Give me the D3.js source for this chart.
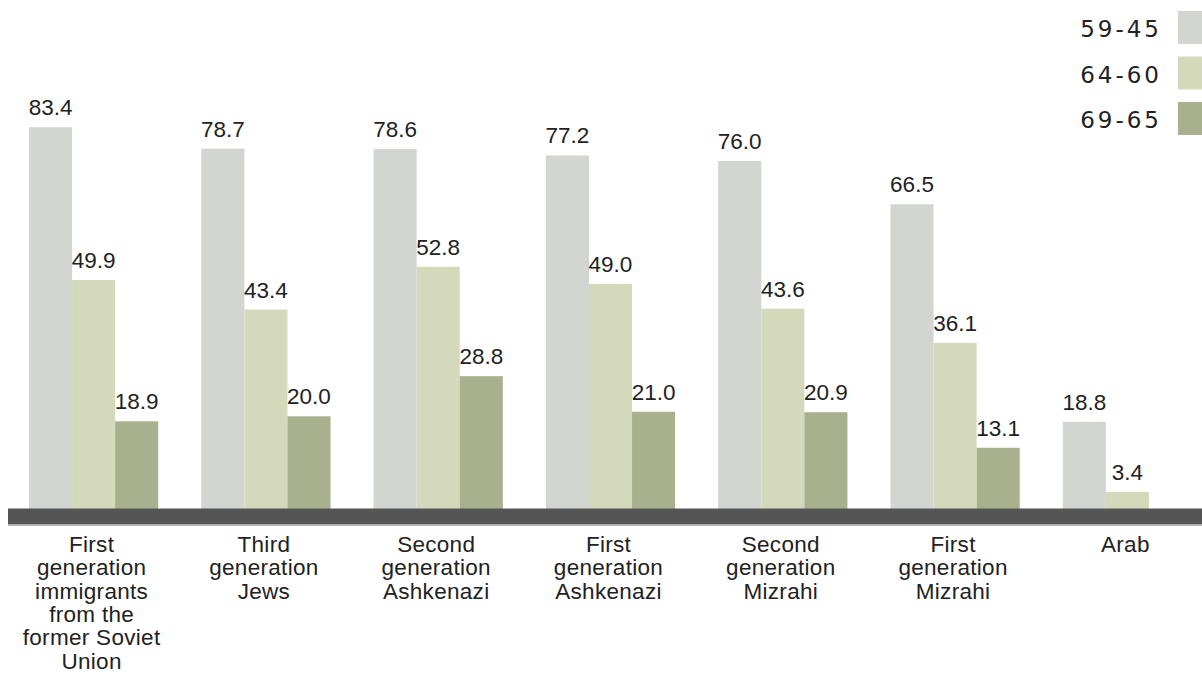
<!DOCTYPE html>
<html>
<head>
<meta charset="utf-8">
<script src="https://cdn.jsdelivr.net/npm/d3@7"></script>
<style>
  body { margin: 0; background: #fff; }
  svg { display: block; }
</style>
</head>
<body>
<div id="chart"></div>
<script>
var categories = [
  ['First', 'generation', 'immigrants', 'from the', 'former Soviet', 'Union'],
  ['Third', 'generation', 'Jews'],
  ['Second', 'generation', 'Ashkenazi'],
  ['First', 'generation', 'Ashkenazi'],
  ['Second', 'generation', 'Mizrahi'],
  ['First', 'generation', 'Mizrahi'],
  ['Arab']
];
var seriesNames = ['59-45', '64-60', '69-65'];
var ages45to59 = [83.4, 78.7, 78.6, 77.2, 76.0, 66.5, 18.8];
var ages60to64 = [49.9, 43.4, 52.8, 49.0, 43.6, 36.1, 3.4];
var ages65to69 = [18.9, 20.0, 28.8, 21.0, 20.9, 13.1, null];
var colors = ['#d3d5d0', '#d4d9bc', '#a8b08e'];

var w = 1202, h = 674;
var zeroY = 507.5;

var svg = d3.select('#chart').append('svg')
  .attr('width', w)
  .attr('height', h);

var seriesValues = [ages45to59, ages60to64, ages65to69];
var groupIdx = d3.range(categories.length);

var x0 = d3.scaleBand()
  .domain(groupIdx)
  .range([29, 1192])
  .paddingInner(0.25)
  .paddingOuter(0);

var x1 = d3.scaleBand()
  .domain(d3.range(seriesNames.length))
  .range([0, x0.bandwidth()]);

var y = d3.scaleLinear()
  .domain([0, 100])
  .range([zeroY, zeroY - 456]);

var bars = [];
groupIdx.forEach(function (g) {
  seriesValues.forEach(function (vals, s) {
    if (vals[g] != null) bars.push({ g: g, s: s, v: vals[g] });
  });
});

var groups = svg.append('g');

groups.selectAll('rect.bar')
  .data(bars)
  .enter()
  .append('rect')
  .attr('class', 'bar')
  .attr('x', function (d) { return x0(d.g) + x1(d.s); })
  .attr('y', function (d) { return y(d.v); })
  .attr('width', x1.bandwidth())
  .attr('height', function (d) { return y(0) - y(d.v) + 2; })
  .attr('fill', function (d) { return colors[d.s]; });

groups.selectAll('text.val')
  .data(bars)
  .enter()
  .append('text')
  .attr('class', 'val')
  .attr('x', function (d) { return x0(d.g) + x1(d.s) + x1.bandwidth() / 2; })
  .attr('y', function (d) { return y(d.v) - 12; })
  .attr('text-anchor', 'middle')
  .attr('font-family', 'Liberation Sans, Arial, sans-serif')
  .attr('font-size', 22.5)
  .attr('fill', '#222')
  .text(function (d) { return d.v.toFixed(1); });

// base band
svg.append('rect')
  .attr('x', 8).attr('y', zeroY + 1)
  .attr('width', w - 8).attr('height', 16)
  .attr('fill', '#555555');
svg.append('rect')
  .attr('x', 8).attr('y', zeroY + 17)
  .attr('width', w - 8).attr('height', 1.5)
  .attr('fill', '#b5b5b5');

// category labels
var catLabels = svg.selectAll('text.cat')
  .data(groupIdx)
  .enter()
  .append('text')
  .attr('class', 'cat')
  .attr('text-anchor', 'middle')
  .attr('font-family', 'Liberation Sans, Arial, sans-serif')
  .attr('font-size', 22.5)
  .attr('letter-spacing', 0.3)
  .attr('fill', '#222');

catLabels.each(function (g) {
  var t = d3.select(this);
  categories[g].forEach(function (line, i) {
    t.append('tspan')
      .attr('x', x0(g) + x0.bandwidth() / 2 - 2)
      .attr('y', 552 + i * 23.3)
      .text(line);
  });
});

// legend
var legend = svg.selectAll('g.legend')
  .data(seriesNames)
  .enter()
  .append('g')
  .attr('class', 'legend')
  .attr('transform', function (d, i) { return 'translate(0,' + (11 + i * 45.5) + ')'; });

legend.append('rect')
  .attr('x', 1178).attr('y', 0)
  .attr('width', 24).attr('height', 33)
  .attr('fill', function (d, i) { return colors[i]; });

legend.append('text')
  .attr('x', 1162)
  .attr('y', 26)
  .attr('text-anchor', 'end')
  .attr('font-family', 'DejaVu Sans, sans-serif')
  .attr('font-size', 23)
  .attr('letter-spacing', 3)
  .attr('fill', '#222')
  .text(function (d) { return d; });
</script>
</body>
</html>
